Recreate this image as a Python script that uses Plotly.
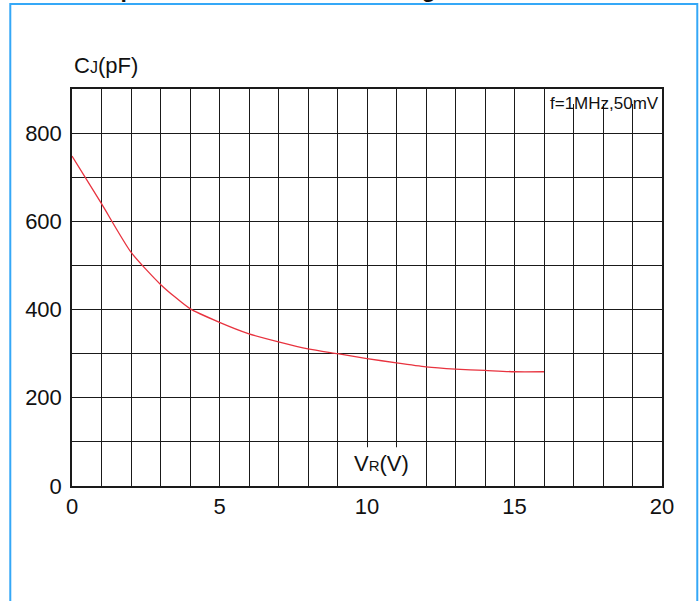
import plotly.graph_objects as go

# ---- data ----
vr_volts = [0, 1, 2, 3, 4, 5, 6, 7, 8, 9, 10, 11, 12, 13, 14, 15, 16]
cj_pf = [748, 640, 530, 457, 402, 371, 345, 327, 311, 300, 289, 279, 270, 265, 262, 259, 259]

x_tickvals = list(range(0, 21))
x_ticktext = [str(v) if v % 5 == 0 else "" for v in x_tickvals]
y_tickvals = list(range(0, 901, 100))
y_ticktext = [str(v) if v % 200 == 0 else "" for v in y_tickvals]

title_text = "Capacitance vs. Reverse Voltage"
y_title = "C<span style='font-size:16px'>J</span>(pF)"
x_title = "V<span style='font-size:15px'>R</span>(V)"
cond_text = "f=1MHz,50mV"

FONT = "Liberation Sans, Arial, sans-serif"

fig = go.Figure()
fig.add_trace(go.Scatter(
    x=vr_volts, y=cj_pf, mode="lines",
    line=dict(color="#e8333f", width=1.3, shape="spline", smoothing=0.6),
    hoverinfo="skip", showlegend=False,
))

axis_common = dict(
    showgrid=True, gridcolor="#1a1a1a", gridwidth=1.4,
    showline=True, linecolor="#1a1a1a", linewidth=1.5, mirror=True,
    zeroline=False, ticks="", tickmode="array",
    tickfont=dict(family=FONT, size=22, color="#111111"),
)

fig.update_xaxes(range=[0, 20], tickvals=x_tickvals, ticktext=x_ticktext, **axis_common)
fig.update_yaxes(range=[0, 900], tickvals=y_tickvals, ticktext=y_ticktext,
                 ticklabelstandoff=4, **axis_common)

# white patches behind in-plot labels (between grid and traces)
fig.add_shape(type="rect", xref="x", yref="y", x0=9.1, x1=11.9, y0=0, y1=88,
              fillcolor="white", line=dict(width=0), layer="between")
fig.add_shape(type="rect", xref="x", yref="y", x0=16.05, x1=20, y0=866, y1=900,
              fillcolor="white", line=dict(width=0), layer="between")

# light blue frame
fig.add_shape(type="rect", xref="paper", yref="paper",
              x0=-0.1046, x1=1.0598, y0=-0.32, y1=1.2138,
              line=dict(color="#35a8f7", width=2), fillcolor="rgba(0,0,0,0)", layer="above")

fig.add_annotation(text=y_title, xref="paper", yref="paper", x=0.0, y=1.023,
                   xanchor="left", yanchor="bottom", showarrow=False,
                   font=dict(family=FONT, size=22, color="#111111"))
fig.add_annotation(text=x_title, xref="x", yref="y", x=9.49, y=18,
                   xanchor="left", yanchor="bottom", showarrow=False,
                   font=dict(family=FONT, size=22, color="#111111"))
fig.add_annotation(text=cond_text, xref="x", yref="y", x=19.95, y=840,
                   xanchor="right", yanchor="bottom", showarrow=False,
                   font=dict(family=FONT, size=17, color="#111111"))
# title, mostly cut off above the top edge
fig.add_annotation(text="<b>" + title_text + "</b>", xref="paper", yref="paper",
                   x=(89 - 72) / 590, y=1.214, xanchor="left", yanchor="bottom",
                   showarrow=False, font=dict(family=FONT, size=23, color="#111111"))

fig.update_layout(
    width=700, height=601,
    margin=dict(l=72, r=38, t=89, b=115),
    paper_bgcolor="white", plot_bgcolor="white",
    showlegend=False,
)

fig.write_html("out.html")
